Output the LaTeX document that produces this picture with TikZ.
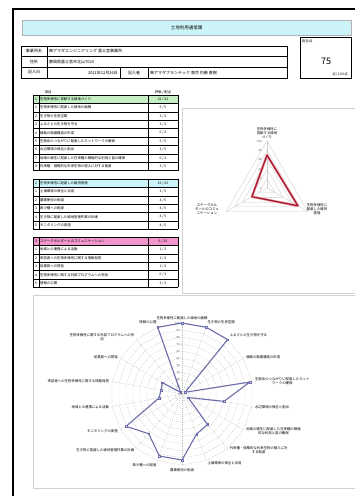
\documentclass[tikz,border=0pt]{standalone}
\usepackage{fontspec}
\setmainfont{Noto Sans CJK JP}
\definecolor{seriesblue}{RGB}{108,110,170}
\definecolor{seriesred}{RGB}{165,25,45}
\definecolor{glowpink}{RGB}{242,170,182}
\definecolor{headgreen}{RGB}{196,238,196}
\definecolor{headcyan}{RGB}{204,244,248}
\definecolor{headpink}{RGB}{240,150,205}
\tikzstyle{tabline} = [black, line width=0.4pt]
\tikzstyle{thickline} = [black, line width=1pt]
\tikzstyle{txt} = [inner sep=0pt, font=\fontsize{3.4}{4}\selectfont]
\tikzstyle{cell} = [txt, anchor=west]
\tikzstyle{infotxt} = [inner sep=0pt, font=\fontsize{4}{5}\selectfont]
\tikzstyle{axlabel} = [txt, align=center]
\tikzstyle{tick} = [inner sep=0pt, font=\fontsize{2.8}{3}\selectfont, gray!70!black, anchor=east]
\tikzstyle{chartbox} = [draw=gray!35, line width=0.6pt]
\tikzstyle{biggrid} = [gray!55, dash pattern=on 1pt off 1pt, line width=0.3pt]
\tikzstyle{smallgrid} = [gray!40, line width=0.35pt]
\tikzstyle{marker} = [rectangle, draw=seriesblue, fill=blue!10, inner sep=0pt, minimum size=1.8pt, line width=0.3pt]

\begin{document}
\begin{tikzpicture}[x=1pt,y=-1pt]
\useasboundingbox (0,0) rectangle (354,496);
\draw[line width=1.5pt] (13,500) -- (13,9) -- (360,9);

\node[draw=gray!60, fill=headcyan, minimum width=329pt, minimum height=15pt, inner sep=0pt, font=\fontsize{4.5}{5}\selectfont] (title) at (186.5,27.5) {土地利用通信簿};

\draw[tabline] (21,46) rectangle (287,78);
\draw[tabline] (21,56.5) -- (287,56.5) (21,67) -- (287,67) (47,46) -- (47,78) (120,67) -- (120,78) (148,67) -- (148,78);
\node[infotxt] (lname) at (34,51.3) {事業所名};
\node[infotxt, anchor=west] (vname) at (49,51.3) {㈱アマダエンジニアリング\ 富士宮事業所};
\node[infotxt] (laddr) at (34,61.8) {住所};
\node[infotxt, anchor=west] (vaddr) at (49,61.8) {静岡県富士宮市北山7020};
\node[infotxt] (ldate) at (34,72.5) {記入日};
\node[infotxt, anchor=east] (vdate) at (118,72.5) {2011年12月26日};
\node[infotxt] (lwho) at (134,72.5) {記入者};
\node[infotxt, anchor=west] (vwho) at (150,72.5) {㈱アマダプランテック\ 東京\ 内藤\ 直樹};

\draw[tabline] (300,37) rectangle (351,78);
\node[txt, anchor=north west] (lscore) at (302,39) {総合点};
\node[inner sep=0pt, font=\fontsize{9}{10}\selectfont] (vscore) at (326,61) {75};
\node[txt, anchor=east] (uscore) at (348,74) {点/\ 100\ 点};

\node[txt] (hitem) at (48,92) {項目};
\node[txt] (hscore) at (163,92) {評価 / 配点};
\fill[headgreen] (33,95) rectangle (178,103.4);
\foreach \i in {0,...,9} \draw[tabline] (33,95+\i*8.4) -- (178,95+\i*8.4);
\draw[tabline] (33,95) -- (33,170.6) (39,95) -- (39,170.6) (178,95) -- (178,170.6);
\draw[thickline] (148,95) -- (148,170.6);
\node[txt] (s1n0) at (36,99.2) {1};
\node[cell] (s1t0) at (40,99.2) {生物多様性に貢献する緑地づくり};
\node[txt] (s1s0) at (163,99.2) {22\ /\ 32};
\foreach \t/\a/\b [count=\i] in {生物多様性に配慮した緑地の面積/5/5, 生き物の生息空間/3/3, ふるさとの生き物を守る/3/3, 植栽の階層構造の形成/0/3, 生態系のつながりに配慮したネットワークの確保/5/5, 水辺環境の保全と創出/3/5, 地域の植生に配慮した在来種の積極的な利用と苗の確保/0/3, 外来種・侵略的な外来生物の侵入に対する配慮/3/5} {
  \node[txt] (s1n\i) at (36,99.2+\i*8.4) {\i};
  \node[cell] (s1t\i) at (40,99.2+\i*8.4) {\t};
  \node[txt] (s1s\i) at (163,99.2+\i*8.4) {\a\ /\ \b};
}

\fill[headcyan] (33,179) rectangle (178,187.4);
\foreach \i in {0,...,6} \draw[tabline] (33,179+\i*8.4) -- (178,179+\i*8.4);
\draw[tabline] (33,179) -- (33,229.4) (39,179) -- (39,229.4) (178,179) -- (178,229.4);
\draw[thickline] (148,179) -- (148,229.4);
\node[txt] (s2n0) at (36,183.2) {2};
\node[cell] (s2t0) at (40,183.2) {生物多様性に配慮した維持管理};
\node[txt] (s2s0) at (163,183.2) {19\ /\ 25};
\foreach \t/\a/\b [count=\i] in {土壌環境の保全と活用/3/5, 農薬使用の削減/4/5, 希少種への配慮/4/5, 生き物に配慮した緑地管理作業の計画/4/5, モニタリングの実施/4/5} {
  \node[txt] (s2n\i) at (36,183.2+\i*8.4) {\i};
  \node[cell] (s2t\i) at (40,183.2+\i*8.4) {\t};
  \node[txt] (s2s\i) at (163,183.2+\i*8.4) {\a\ /\ \b};
}

\fill[headpink] (33,237) rectangle (178,245.4);
\foreach \i in {0,...,6} \draw[tabline] (33,237+\i*8.4) -- (178,237+\i*8.4);
\draw[tabline] (33,237) -- (33,287.4) (39,237) -- (39,287.4) (178,237) -- (178,287.4);
\draw[thickline] (148,237) -- (148,287.4);
\node[txt] (s3n0) at (36,241.2) {3};
\node[cell] (s3t0) at (40,241.2) {ステークホルダーとのコミュニケーション};
\node[txt] (s3s0) at (163,241.2) {6\ /\ 15};
\foreach \t/\a/\b [count=\i] in {地域との連携による活動/1/3, 来訪者への生物多様性に関する情報発信/1/3, 従業員への啓発/1/3, 生物多様性に関する外部プログラムへの参加/0/3, 情報の公開/3/3} {
  \node[txt] (s3n\i) at (36,241.2+\i*8.4) {\i};
  \node[cell] (s3t\i) at (40,241.2+\i*8.4) {\t};
  \node[txt] (s3s\i) at (163,241.2+\i*8.4) {\a\ /\ \b};
}

\draw[chartbox] (182,108) rectangle (362,293);
\begin{scope}[shift={(267,188)}, y=1pt]
  \foreach \lv in {1,...,5} \draw[smallgrid] (90:\lv*9.4) -- (-30:\lv*9.4) -- (210:\lv*9.4) -- cycle;
  \foreach \a in {90,-30,210} \draw[smallgrid] (0,0) -- (\a:47);
  \foreach \v in {0,20,...,100} \node[tick] (st\v) at (-5,\v*0.47) {\v};
  \coordinate (sp1) at (90:32.9);
  \coordinate (sp2) at (-30:35.7);
  \coordinate (sp3) at (210:17.4);
  \draw[glowpink, line width=2.6pt, line join=round] (sp1) -- (sp2) -- (sp3) -- cycle;
  \draw[seriesred, line width=1.3pt, line join=round] (sp1) -- (sp2) -- (sp3) -- cycle;
  \node[axlabel, anchor=south] (sl1) at (90:49) {生物多様性に\\貢献する緑地\\づくり};
  \node[axlabel] (sl2) at (50,-21) {生物多様性に\\配慮した維持\\管理};
  \node[axlabel] (sl3) at (-60,-21) {ステークホル\\ダーとのコミュ\\ニケーション};
\end{scope}

\draw[chartbox] (33,295) rectangle (362,488);
\begin{scope}[shift={(182,394)}, y=1pt]
  \foreach \lv in {1,...,10} \draw[biggrid] (90:\lv*7.1) \foreach \k in {1,...,17} { -- (90-\k*20:\lv*7.1) } -- cycle;
  \foreach \k in {0,...,17} \draw[biggrid] (0,0) -- (90-\k*20:71);
  \foreach \v in {0,10,...,100} \node[tick] (bt\v) at (-2,\v*0.71) {\v};
  \foreach \v [count=\k from 0] in {100,100,100,5,97,60,10,56,60,93,93,73,91,33,30,32,3,100} \coordinate (bp\k) at (90-\k*20:\v*0.71);
  \draw[seriesblue, line width=1.1pt, line join=round] (bp0) \foreach \k in {1,...,17} { -- (bp\k) } -- cycle;
  \foreach \k in {0,...,17} \node[marker] (bm\k) at (bp\k) {};
  \foreach \a/\anc/\t [count=\k from 0] in {90/south/{生物多様性に配慮した緑地の面積}, 70/south west/{生き物の生息空間}, 50/south west/{ふるさとの生き物を守る}, 30/west/{植栽の階層構造の形成}, 10/west/{生態系のつながりに配慮したネット\\ワークの確保}, -10/west/{水辺環境の保全と創出}, -30/west/{地域の植生に配慮した在来種の積極\\的な利用と苗の確保}, -50/west/{外来種・侵略的な外来生物の侵入に対\\する配慮}, -70/west/{土壌環境の保全と活用}, -90/north/{農薬使用の削減}, -110/north east/{希少種への配慮}, -130/east/{生き物に配慮した緑地管理作業の計画}, -150/east/{モニタリングの実施}, -170/east/{地域との連携による活動}, 170/east/{来訪者への生物多様性に関する情報発信}, 150/east/{従業員への啓発}, 130/east/{生物多様性に関する外部プログラムへの参\\加}, 110/south east/{情報の公開}}
    \node[axlabel, anchor=\anc] (bl\k) at (\a:74) {\t};
\end{scope}
\end{tikzpicture}
\end{document}
